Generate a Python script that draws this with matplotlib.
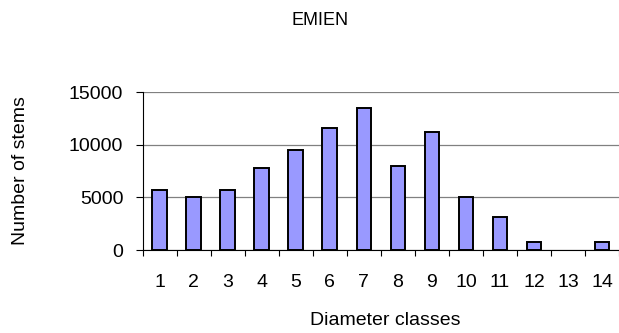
import numpy as np
import matplotlib.pyplot as plt

plt.rcParams['font.family'] = ['Liberation Sans', 'DejaVu Sans']

classes = list(range(1, 15))
stems = [5700, 5000, 5700, 7800, 9500, 11600, 13500, 8000, 11200, 5000, 3100, 760, 0, 760]
y_ticks = [0, 5000, 10000, 15000]

fig = plt.figure(figsize=(6.19, 3.33), dpi=100)
ax = fig.add_axes([0.2305, 0.2492, 0.7695, 0.4736])

# no outline for empty classes
edge_w = [1.4 if v > 0 else 0 for v in stems]
ax.bar(classes, stems, width=0.43, color='#9999FF', edgecolor='black', linewidth=edge_w, zorder=3)

ax.set_xlim(0.5, 14.5)
ax.set_ylim(0, 15000)
ax.set_yticks(y_ticks)
ax.set_xticks(classes)
ax.set_xticks(np.arange(0.5, 15, 1), minor=True)
ax.tick_params(axis='x', which='major', length=0, pad=17, labelsize=14)
ax.tick_params(axis='x', which='minor', length=4.5, direction='out', width=0.8)
ax.tick_params(axis='y', length=5, direction='out', width=0.8, pad=9, labelsize=14)

ax.yaxis.grid(True, color='#808080', linewidth=0.9, zorder=0)
ax.set_axisbelow(True)
for s in ['top', 'right']:
    ax.spines[s].set_visible(False)
ax.spines['left'].set_linewidth(0.8)
ax.spines['bottom'].set_linewidth(0.8)

fig.text(0.517, 0.938, 'EMIEN', ha='center', va='center', fontsize=13)
fig.text(0.033, 0.489, 'Number of stems', rotation=90, ha='center', va='center', fontsize=14)
fig.text(0.623, 0.039, 'Diameter classes', ha='center', va='center', fontsize=14)

fig.savefig('out.png', dpi=100)
